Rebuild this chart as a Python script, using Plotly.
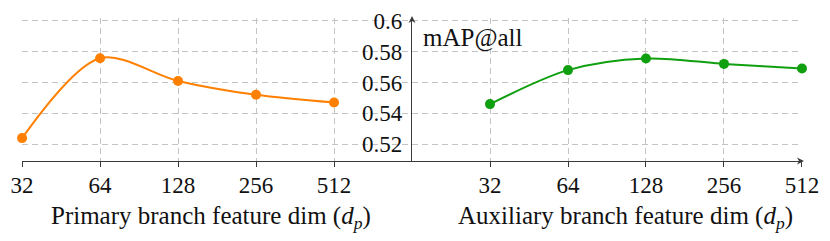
import math
import plotly.graph_objects as go

dims = [32, 64, 128, 256, 512]
tick_labels = ["32", "64", "128", "256", "512"]
primary_map = [0.524, 0.5757, 0.561, 0.552, 0.547]
auxiliary_map = [0.546, 0.568, 0.5755, 0.572, 0.569]
y_ticks = [0.52, 0.54, 0.56, 0.58, 0.6]
y_tick_labels = ["0.52", "0.54", "0.56", "0.58", "0.6"]

# page body has an 8px default margin; work in reference-pixel coords minus that offset
OFF = 8
W, H = 830 - 2 * OFF, 241 - 2 * OFF
FONT = "Liberation Serif, Times New Roman, serif"
AXC = "#3a3a3a"
GRIDC = "#c4c4c4"
ORANGE = "#ff8000"
GREEN = "#0f9f0f"
FS_TICK = 23
FS = 25


def px(x):
    return (x - OFF) / W


def py(y):
    return 1 - (y - OFF) / H


fig = go.Figure()
fig.add_trace(go.Scatter(x=dims, y=primary_map, xaxis="x", yaxis="y", mode="lines+markers",
                         line=dict(color=ORANGE, width=2, shape="spline", smoothing=0.9),
                         marker=dict(color=ORANGE, size=10), showlegend=False, cliponaxis=False))
fig.add_trace(go.Scatter(x=dims, y=auxiliary_map, xaxis="x2", yaxis="y", mode="lines+markers",
                         line=dict(color=GREEN, width=2, shape="spline", smoothing=0.9),
                         marker=dict(color=GREEN, size=10), showlegend=False, cliponaxis=False))

y0_px, y1_px = 161, 18
yrange = [0.5092, 0.6017]
xl0, xl1 = 22, 412
xr0, xr1 = 412, 802

common_x = dict(type="log", tickvals=dims, ticktext=tick_labels, showgrid=True,
                gridcolor=GRIDC, griddash="6px,4px", gridwidth=1,
                showline=True, linecolor=AXC, linewidth=1.2,
                ticks="outside", ticklen=5, tickcolor=AXC, tickwidth=1,
                tickfont=dict(family=FONT, size=FS_TICK, color="#111"),
                ticklabelstandoff=-2, zeroline=False, fixedrange=True, automargin=False)

fig.update_layout(
    width=W, height=H, margin=dict(l=0, r=0, t=0, b=0, autoexpand=False),
    paper_bgcolor="white", plot_bgcolor="white",
    xaxis=dict(domain=[px(xl0), px(xl1)], range=[math.log10(31.98), math.log10(1024)], anchor="y", **common_x),
    xaxis2=dict(domain=[px(xr0), px(xr1)], range=[math.log10(16), math.log10(512.05)], anchor="y", **common_x),
    yaxis=dict(domain=[py(y0_px), py(y1_px)], range=yrange, anchor="x2", side="left",
               tickvals=y_ticks, ticktext=y_tick_labels, showgrid=True, gridcolor=GRIDC,
               griddash="6px,4px", gridwidth=1, showline=True, linecolor=AXC, linewidth=1.2,
               ticks="", tickfont=dict(family=FONT, size=FS_TICK, color="#111"),
               ticklabelstandoff=4, zeroline=False, fixedrange=True, automargin=False),
    font=dict(family=FONT, size=FS, color="#111"),
)

# axis arrowheads (decorations)
ay_tip = 16
fig.add_shape(type="path", xref="paper", yref="paper", line=dict(width=0), fillcolor=AXC,
              path=f"M {px(xr0)} {py(ay_tip)} L {px(xr0 - 3.5)} {py(ay_tip + 7)} L {px(xr0)} {py(ay_tip + 5)} L {px(xr0 + 3.5)} {py(ay_tip + 7)} Z")
ax_tip = 804
fig.add_shape(type="path", xref="paper", yref="paper", line=dict(width=0), fillcolor=AXC,
              path=f"M {px(ax_tip)} {py(y0_px)} L {px(ax_tip - 7)} {py(y0_px - 3.5)} L {px(ax_tip - 5)} {py(y0_px)} L {px(ax_tip - 7)} {py(y0_px + 3.5)} Z")

# labels
fig.add_annotation(x=px(421), y=py(38), xref="paper", yref="paper", xanchor="left", yanchor="middle",
                   text="mAP@all", showarrow=False, font=dict(family=FONT, size=FS, color="#111"))
fig.add_annotation(x=px(211), y=py(217), xref="paper", yref="paper", xanchor="center", yanchor="middle",
                   text="Primary branch feature dim (<i>d<sub>p</sub></i>)", showarrow=False,
                   font=dict(family=FONT, size=FS, color="#111"))
fig.add_annotation(x=px(625), y=py(217), xref="paper", yref="paper", xanchor="center", yanchor="middle",
                   text="Auxiliary branch feature dim (<i>d<sub>p</sub></i>)", showarrow=False,
                   font=dict(family=FONT, size=FS, color="#111"))

fig.write_html("out.html")
